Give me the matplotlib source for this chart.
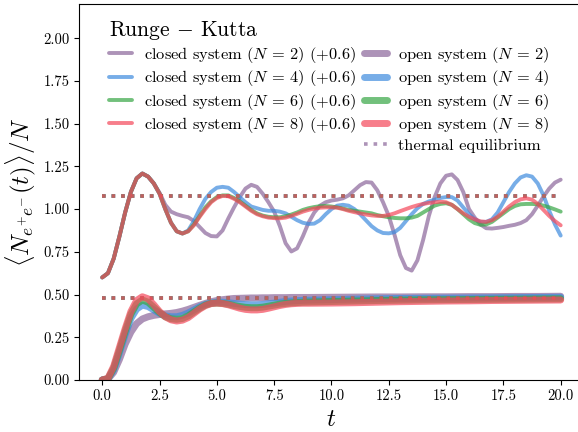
import numpy as np
import matplotlib
matplotlib.use("Agg")
import matplotlib.pyplot as plt
from matplotlib.lines import Line2D

plt.rcParams['font.family'] = 'serif'
plt.rcParams['font.serif'] = ['cmr10']
plt.rcParams['mathtext.fontset'] = 'cm'
plt.rcParams['axes.formatter.use_mathtext'] = True

# --- data ---
sizes = [2, 4, 6, 8]
colors = ['#8b669a', '#3e8bde', '#36a644', '#f4485a']
offset = 0.6

t_closed = np.linspace(0, 20, 81)
t_open = np.concatenate([np.linspace(0, 9, 37), np.arange(10, 21, 1.0)])

# shared part of the closed curves (t = 0 .. 3.5)
closed_start = [0.600, 0.625, 0.710, 0.840, 0.980, 1.100, 1.180, 1.208, 1.190,
                1.150, 1.090, 1.000, 0.920, 0.870, 0.857]

closed_n2 = [0.600, 0.625, 0.710, 0.840, 0.980, 1.100, 1.180, 1.208, 1.190, 1.150, 1.095,
             1.025, 0.985, 0.970, 0.960, 0.952, 0.930, 0.895, 0.860, 0.842, 0.840,
             0.875, 0.945, 1.010, 1.070, 1.120, 1.142, 1.130, 1.090, 1.040, 0.985,
             0.900, 0.800, 0.752, 0.770, 0.840, 0.920, 0.980, 1.020, 1.040, 1.050,
             1.055, 1.063, 1.080, 1.110, 1.140, 1.158, 1.155, 1.110, 1.040, 0.960,
             0.850, 0.730, 0.655, 0.640, 0.700, 0.820, 0.960, 1.070, 1.150, 1.195,
             1.203, 1.170, 1.100, 1.000, 0.950, 0.910, 0.888, 0.886, 0.890, 0.895,
             0.902, 0.908, 0.918, 0.935, 0.970, 1.020, 1.073, 1.120, 1.155, 1.172]
closed_n4 = closed_start + [
    0.875, 0.930, 1.000, 1.060, 1.100, 1.125, 1.130, 1.125, 1.100, 1.070, 1.040,
    1.015, 1.005, 0.995, 0.990, 0.990, 0.985, 0.975, 0.955, 0.935, 0.920, 0.913,
    0.915, 0.935, 0.970, 1.000, 1.020, 1.025, 1.020, 1.000, 0.970, 0.935, 0.900,
    0.875, 0.860, 0.858, 0.865, 0.890, 0.930, 0.970, 1.005, 1.030, 1.045, 1.055,
    1.065, 1.070, 1.070, 1.050, 1.010, 0.970, 0.940, 0.925, 0.925, 0.940, 0.980,
    1.040, 1.100, 1.150, 1.185, 1.198, 1.190, 1.150, 1.080, 0.990, 0.910, 0.845]
closed_n6 = closed_start + [
    0.870, 0.910, 0.960, 1.010, 1.045, 1.070, 1.080, 1.080, 1.065, 1.045, 1.020,
    0.995, 0.975, 0.962, 0.955, 0.952, 0.952, 0.958, 0.968, 0.980, 0.995, 1.005,
    1.012, 1.017, 1.018, 1.015, 1.010, 1.003, 0.995, 0.990, 0.985, 0.980, 0.975,
    0.965, 0.958, 0.952, 0.948, 0.946, 0.946, 0.950, 0.960, 0.980, 1.000, 1.020,
    1.030, 1.034, 1.025, 1.000, 0.970, 0.940, 0.918, 0.908, 0.910, 0.925, 0.950,
    0.975, 1.000, 1.018, 1.028, 1.030, 1.030, 1.028, 1.020, 1.010, 0.998, 0.985]
closed_n8 = closed_start + [
    0.870, 0.905, 0.955, 1.000, 1.040, 1.065, 1.077, 1.075, 1.060, 1.040, 1.015,
    0.990, 0.970, 0.958, 0.950, 0.947, 0.946, 0.950, 0.960, 0.972, 0.985, 0.995,
    1.003, 1.008, 1.010, 1.010, 1.008, 1.000, 0.990, 0.982, 0.975, 0.968, 0.963,
    0.960, 0.960, 0.965, 0.975, 0.988, 1.000, 1.012, 1.022, 1.030, 1.036, 1.040,
    1.043, 1.040, 1.025, 1.000, 0.975, 0.955, 0.940, 0.928, 0.925, 0.935, 0.955,
    0.985, 1.015, 1.040, 1.057, 1.063, 1.055, 1.030, 0.995, 0.960, 0.930, 0.905]

open_n2 = [0.000, 0.005, 0.045, 0.120, 0.210, 0.280, 0.330, 0.357, 0.370, 0.378,
           0.383, 0.387, 0.390, 0.395, 0.403, 0.413, 0.425, 0.437, 0.448, 0.458,
           0.465, 0.470, 0.474, 0.477, 0.478, 0.479, 0.480, 0.480, 0.481, 0.481,
           0.482, 0.482, 0.482, 0.483, 0.483, 0.483, 0.483,
           0.484, 0.485, 0.486, 0.486, 0.487, 0.487, 0.488, 0.488, 0.489, 0.489, 0.490]
open_n4 = [0.000, 0.007, 0.060, 0.160, 0.265, 0.360, 0.415, 0.438, 0.430, 0.410,
           0.390, 0.375, 0.370, 0.370, 0.378, 0.392, 0.410, 0.428, 0.442, 0.450,
           0.455, 0.455, 0.452, 0.448, 0.444, 0.441, 0.440, 0.440, 0.442, 0.446,
           0.450, 0.455, 0.459, 0.462, 0.464, 0.466, 0.467,
           0.470, 0.473, 0.475, 0.477, 0.478, 0.479, 0.480, 0.481, 0.482, 0.483, 0.484]
open_n6 = [0.000, 0.008, 0.070, 0.175, 0.285, 0.385, 0.445, 0.468, 0.455, 0.425,
           0.395, 0.370, 0.358, 0.355, 0.360, 0.375, 0.398, 0.420, 0.438, 0.448,
           0.450, 0.448, 0.443, 0.436, 0.430, 0.425, 0.423, 0.423, 0.426, 0.432,
           0.438, 0.444, 0.448, 0.451, 0.453, 0.455, 0.456,
           0.459, 0.462, 0.465, 0.467, 0.469, 0.470, 0.471, 0.472, 0.473, 0.474, 0.475]
open_n8 = [0.000, 0.010, 0.080, 0.190, 0.300, 0.400, 0.465, 0.487, 0.475, 0.440,
           0.400, 0.370, 0.352, 0.345, 0.350, 0.365, 0.390, 0.415, 0.435, 0.447,
           0.450, 0.447, 0.440, 0.430, 0.420, 0.413, 0.410, 0.410, 0.413, 0.420,
           0.428, 0.436, 0.442, 0.446, 0.448, 0.449, 0.449,
           0.450, 0.452, 0.455, 0.458, 0.460, 0.462, 0.463, 0.465, 0.466, 0.467, 0.468]

thermal_eq = [0.478, 0.478, 0.478, 0.478]

closed_all = [closed_n2, closed_n4, closed_n6, closed_n8]
open_all = [open_n2, open_n4, open_n6, open_n8]

fig = plt.figure(figsize=(5.78, 4.32), dpi=100)
ax = fig.add_axes([0.1372, 0.1204, 0.8725, 0.8704])

h_closed, h_open = [], []
h_th = None
for i, N in enumerate(sizes):
    c = colors[i]
    l1, = ax.plot(t_closed, closed_all[i], color=c, lw=2.8, alpha=0.7,
                  solid_joinstyle='round', solid_capstyle='round',
                  label=r'closed system ($N\,=\,%d$) ($+0.6$)' % N)
    l2, = ax.plot(t_open, open_all[i], color=c, lw=5, alpha=0.7,
                  solid_joinstyle='round', solid_capstyle='round',
                  label=r'open system ($N\,=\,%d$)' % N)
    te = [t_closed[0], t_closed[-1]]
    l3, = ax.plot(te, [thermal_eq[i] + offset] * 2, ':', color=c, lw=2.6, alpha=0.7)
    ax.plot(te, [thermal_eq[i]] * 2, ':', color=c, lw=2.6, alpha=0.7)
    h_closed.append(l1)
    h_open.append(l2)
    if h_th is None:
        h_th = l3
        h_th.set_label('thermal equilibrium')

blank = Line2D([], [], alpha=0, label=' ')
handles = h_closed + [blank] + h_open + [h_th]
leg = ax.legend(handles=handles, loc='upper left', ncol=2, frameon=False,
                fontsize=11.8, title=r'Runge $-$ Kutta', title_fontsize=15.5,
                alignment='left', handlelength=1.4, handletextpad=0.7,
                columnspacing=0.5, labelspacing=0.2,
                bbox_to_anchor=(0.03, 1.0))

ax.set_xlim(-1, 21)
ax.set_ylim(0, 2.2)
ax.set_xticks(np.arange(0, 20.1, 2.5))
ax.set_yticks(np.arange(0, 2.01, 0.25))
ax.xaxis.set_major_formatter(matplotlib.ticker.FormatStrFormatter('%.1f'))
ax.yaxis.set_major_formatter(matplotlib.ticker.FormatStrFormatter('%.2f'))
ax.tick_params(labelsize=10.5)
ax.set_xlabel(r'$t$', fontsize=18)
ax.set_ylabel(r'$\langle N_{e^{+}e^{-}}(t)\rangle/N$', fontsize=18)

fig.savefig('out.png', dpi=100)
